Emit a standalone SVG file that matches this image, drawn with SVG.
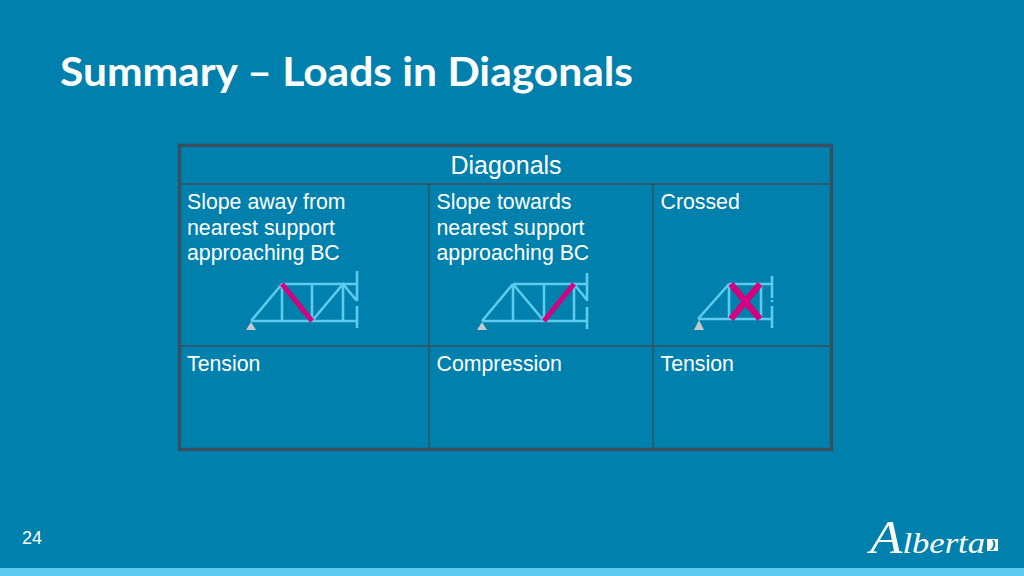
<svg xmlns="http://www.w3.org/2000/svg" width="1024" height="576" viewBox="0 0 1024 576">
<style>
.t{font-family:"Liberation Sans",Arial,sans-serif;font-size:21.3px;fill:#fff}
.b{stroke:#5ccbee;stroke-width:2.6;fill:none}
.p{stroke:#d4007f;stroke-width:5;fill:none}
.g{fill:#c6c9c9}
.l{stroke:#37505f;stroke-width:1.6;fill:none}
</style>
<rect width="1024" height="576" fill="#0080ad"/>
<rect y="568" width="1024" height="8" fill="#5ccbee"/>
<text id="title" x="60" y="86" font-family="Lato,'Open Sans',sans-serif" font-weight="700" font-size="41" fill="#fff" textLength="573" lengthAdjust="spacingAndGlyphs">Summary – Loads in Diagonals</text>
<g id="table">
<rect x="179.500" y="145.500" width="652" height="304" fill="none" stroke="#37505f" stroke-width="3.400"/>
<path class="l" d="M180 184H831M180 346H831M429 184V449M653 184V449"/>
<text class="t" x="506" y="174" text-anchor="middle" style="font-size:25px">Diagonals</text>
<text class="t" x="187" y="209">Slope away from</text>
<text class="t" x="187" y="235">nearest support</text>
<text class="t" x="187" y="260">approaching BC</text>
<text class="t" x="436.500" y="209">Slope towards</text>
<text class="t" x="436.500" y="235">nearest support</text>
<text class="t" x="436.500" y="260">approaching BC</text>
<text class="t" x="660.500" y="209">Crossed</text>
<text class="t" x="187" y="371">Tension</text>
<text class="t" x="436.500" y="371">Compression</text>
<text class="t" x="660.500" y="371">Tension</text>
</g>
<g id="truss1">
<path class="b" d="M251 321H357M282 284H357M251 321L282 284M282 284V321M312 284V321M343 284V321M312 321L343 284L357 301M357 271V301M357 306V328"/>
<path class="p" d="M282 284L312 321"/>
<path class="g" d="M251 322L256 330H246Z"/>
</g>
<g id="truss2">
<path class="b" d="M482 321H587M513 284H587M482 321L513 284M513 284V321M544 284V321M574 284V321M513 284L544 321M574 284L587 300M587 273V301M587 307V329"/>
<path class="p" d="M544 321L574 284"/>
<path class="g" d="M482 322L487 330H477Z"/>
</g>
<g id="truss3">
<path class="b" d="M698 319H772M729 284H772M698 319L729 284M729 284V319M761 284V319M772 276V298M772 300V302M772 306V328"/>
<path class="p" style="stroke-width:6.500" d="M731 284L760 319M760 284L731 319"/>
<path class="g" d="M699 320L704 330H694Z"/>
</g>
<text id="page" x="22" y="544" font-family="'Liberation Sans',Arial,sans-serif" font-size="18" fill="#fff">24</text>
<g id="logo">
<text x="870" y="553" font-family="'Liberation Serif','Times New Roman',serif" font-style="italic" fill="#fff" font-size="30" textLength="115" lengthAdjust="spacingAndGlyphs"><tspan font-size="46">A</tspan>lberta</text>
<path fill="#fff" fill-rule="evenodd" d="M987 539H998V551H987ZM992 540C994 543 994 547 990 550H993C996 547 996 543 994 540Z"/>
</g>
</svg>
